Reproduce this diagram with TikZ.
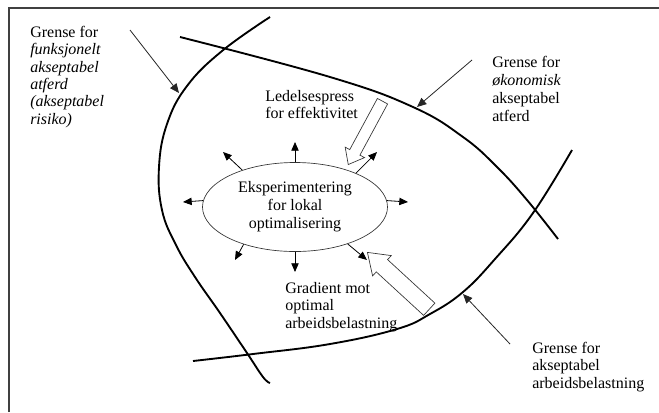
\documentclass[tikz,border=0pt]{standalone}
\usepackage{fontspec}
\setmainfont{Liberation Serif}
\usetikzlibrary{arrows.meta,shapes.geometric,shapes.arrows}

\begin{document}
\begin{tikzpicture}[
        x=0.75pt, y=-0.75pt,
        ramme/.style={draw, line width=1.2pt, black!75},
        grense/.style={draw, line width=1.4pt, black},
        pil/.style={draw, line width=0.6pt, black!85, -{Triangle[length=7pt,width=6pt]}},
        utpil/.style={draw, line width=0.6pt, black, -{Triangle[length=6.5pt,width=5.5pt]}},
        tekst/.style={align=left, anchor=north west, inner sep=0pt, font=\fontsize{12}{13}\selectfont},
        kjerne/.style={ellipse, draw, line width=0.5pt, black!80, text=black, minimum width=138.75pt, minimum height=66.75pt, inner sep=0pt, align=center, font=\fontsize{12}{13.5}\selectfont},
        blokkpil/.style={single arrow, draw, line width=0.5pt, black!80, fill=white, inner xsep=0pt, anchor=tip},
    ]
	\useasboundingbox (0,0) rectangle (659,412);
	\draw[ramme] (9,412) -- (9,8) -- (659,8);
	\draw[grense] plot[smooth, tension=0.7] coordinates {(270,17) (222,51) (187,86) (167,124) (159,167) (162,210) (176,245) (195,277) (220,313) (247,353) (263,377) (270,383)};
	\draw[grense] plot[smooth, tension=0.7] coordinates {(180,37) (330,77) (413,107) (463,137) (497,167) (527,200) (558,239)};
	\draw[grense] plot[smooth, tension=0.7] coordinates {(572,150) (533,213) (495,259) (463,292) (430,314) (397,329) (330,344) (253,354) (193,361)};
	\node[kjerne] (eksp) at (295,207) {Eksperimentering\\ for lokal\\ optimalisering};
	\coordinate (ut_n) at (295,142);
	\coordinate (ut_nv) at (223,152);
	\coordinate (ut_v) at (183,202);
	\coordinate (ut_o) at (408,202);
	\coordinate (ut_no) at (377,152);
	\coordinate (ut_sv) at (235,260);
	\coordinate (ut_s) at (295,272);
	\coordinate (ut_so) at (367,260);
	\node[blokkpil, rotate=241.6, minimum height=54pt, inner ysep=4.1pt, single arrow head extend=3.9pt, single arrow tip angle=77] (press) at (348,165) {};
	\node[blokkpil, rotate=137.4, minimum height=63pt, inner ysep=6pt, single arrow head extend=4.1pt, single arrow tip angle=70] (gradient) at (367,252) {};
	\draw[utpil] (eksp.north) -- (ut_n);
	\draw[utpil] (eksp.145) -- (ut_nv);
	\draw[utpil] (eksp.176) -- (ut_v);
	\draw[utpil] (eksp.4) -- (ut_o);
	\draw[utpil] (eksp.29) -- (ut_no);
	\draw[utpil] (eksp.216) -- (ut_sv);
	\draw[utpil] (eksp.south) -- (ut_s);
	\draw[utpil] (eksp.325) -- (ut_so);
	\coordinate (funk_fra) at (130,30);
	\coordinate (funk_til) at (179,93);
	\coordinate (okon_fra) at (472,60);
	\coordinate (okon_til) at (417,107);
	\coordinate (arb_fra) at (510,344);
	\coordinate (arb_til) at (463,294);
	\draw[pil] (funk_fra) -- (funk_til);
	\draw[pil] (okon_fra) -- (okon_til);
	\draw[pil] (arb_fra) -- (arb_til);
	\node[tekst] (funk) at (30,26) {Grense for\\ \textit{funksjonelt}\\ \textit{akseptabel}\\ \textit{atferd}\\ \textit{(akseptabel}\\ \textit{risiko)}};
	\node[tekst] (ledelse) at (265,90) {Ledelsespress\\ for effektivitet};
	\node[tekst, font=\fontsize{12}{13.5}\selectfont] (okon) at (492,56) {Grense for\\ \textit{økonomisk}\\ akseptabel\\ atferd};
	\node[tekst] (grad) at (285,282) {Gradient mot\\ optimal\\ arbeidsbelastning};
	\node[tekst] (arb) at (532,342) {Grense for\\ akseptabel\\ arbeidsbelastning};
    \end{tikzpicture}
\end{document}
